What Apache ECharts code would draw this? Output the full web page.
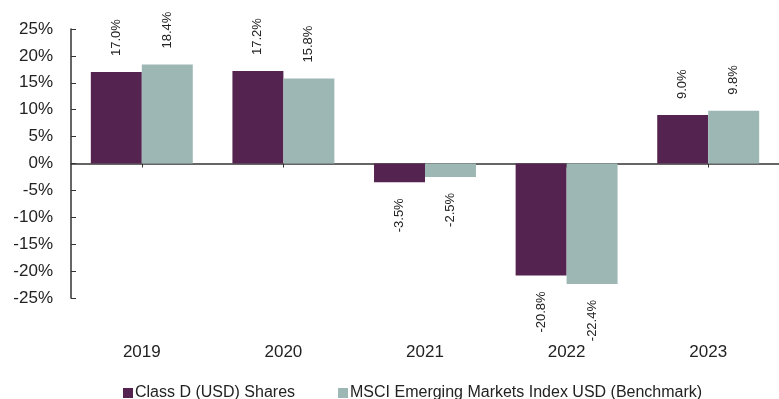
<!DOCTYPE html>
<html>
<head>
<meta charset="utf-8">
<script src="https://cdn.jsdelivr.net/npm/echarts@6/dist/echarts.min.js"></script>
<style>
  html, body { margin: 0; padding: 0; background: #fff; }
  #chart { width: 779px; height: 399px; }
</style>
</head>
<body>
<div id="chart"></div>
<script>
// Calendar-year returns, %
const years = ['2019', '2020', '2021', '2022', '2023'];
const classD = [17.0, 17.2, -3.5, -20.8, 9.0];
const benchmark = [18.4, 15.8, -2.5, -22.4, 9.8];
const seriesNames = ['Class D (USD) Shares', 'MSCI Emerging Markets Index USD (Benchmark)'];
const yTicks = { min: -25, max: 25, step: 5 };

const FONT = '"Liberation Sans", Arial, sans-serif';
const COLORS = ['#54234F', '#9DB8B4'];

function barLabel() {
  return {
    show: true,
    fontFamily: FONT,
    fontSize: 13,
    color: '#222',
    distance: 16,
    formatter: p => p.value.toFixed(1) + '%',
    rotate: 90
  };
}

function makeSeries(name, values, color) {
  return {
    name: name,
    type: 'bar',
    xAxisIndex: 0,
    barGap: '0%',
    barCategoryGap: '28%',
    itemStyle: { color: color },
    data: values.map(v => ({
      value: v,
      label: v >= 0
        ? Object.assign(barLabel(), { position: 'top', align: 'left', verticalAlign: 'middle' })
        : Object.assign(barLabel(), { position: 'bottom', align: 'right', verticalAlign: 'middle' })
    }))
  };
}

const chart = echarts.init(document.getElementById('chart'), null, { renderer: 'canvas' });
chart.setOption({
  animation: false,
  textStyle: { fontFamily: FONT },
  grid: { left: 71, top: 29, width: 710, height: 269, containLabel: false },
  legend: {
    left: 123,
    top: 385,
    padding: 0,
    itemWidth: 10,
    itemHeight: 10,
    itemGap: 43,
    icon: 'rect',
    textStyle: { fontFamily: FONT, fontSize: 16, color: '#222', padding: [0, 0, 0, -3] },
    data: seriesNames
  },
  xAxis: [
    {
      type: 'category',
      data: years,
      axisLine: { onZero: true, lineStyle: { color: '#333', width: 1.5 } },
      axisTick: { show: true, alignWithLabel: true, length: 4, lineStyle: { color: '#333' } },
      axisLabel: { show: false }
    },
    {
      type: 'category',
      data: years,
      position: 'bottom',
      axisLine: { show: false, onZero: false },
      axisTick: { show: false },
      axisLabel: { fontFamily: FONT, fontSize: 17, color: '#222', margin: 46 }
    }
  ],
  yAxis: {
    type: 'value',
    min: yTicks.min,
    max: yTicks.max,
    interval: yTicks.step,
    axisLine: { show: true, lineStyle: { color: '#333', width: 1.5 } },
    axisTick: { show: true, inside: true, length: 5, lineStyle: { color: '#333' } },
    splitLine: { show: false },
    axisLabel: {
      fontFamily: FONT, fontSize: 17, color: '#222', margin: 18,
      formatter: v => v + '%'
    }
  },
  series: [
    makeSeries(seriesNames[0], classD, COLORS[0]),
    makeSeries(seriesNames[1], benchmark, COLORS[1])
  ]
});
</script>
</body>
</html>
